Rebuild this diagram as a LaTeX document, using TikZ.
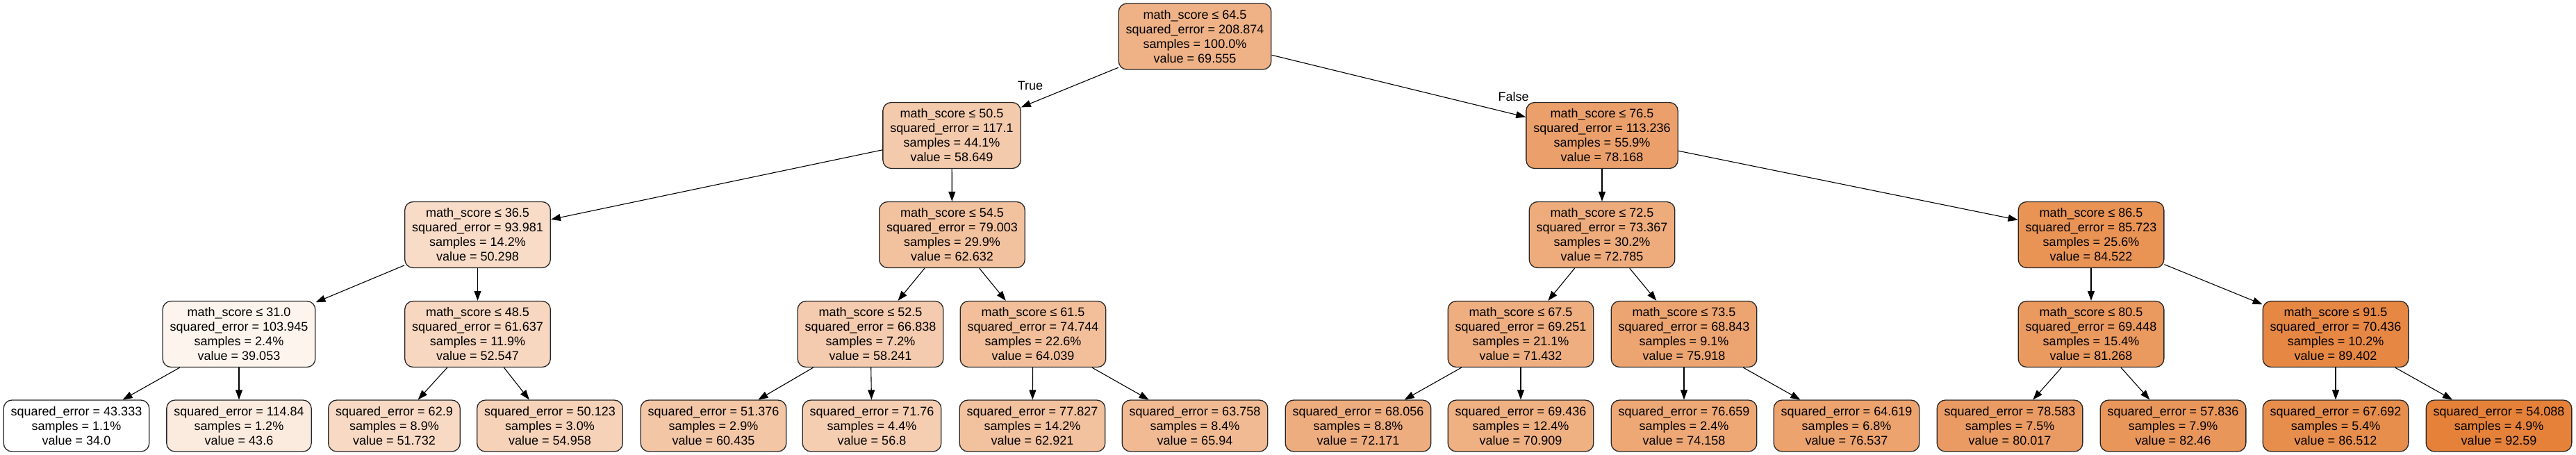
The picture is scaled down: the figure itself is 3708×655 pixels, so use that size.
\documentclass[tikz,border=0pt]{standalone}
\usepackage{fontspec}
\setmainfont{Liberation Sans}
\usetikzlibrary{arrows.meta}
\definecolor{treeorange}{HTML}{E58139}

\tikzset{
  box/.style={draw=black!85, line width=1.3pt, rounded corners=12pt, align=center,
    inner xsep=10.5pt, inner ysep=0pt, font=\fontsize{18}{21}\selectfont},
  split/.style={box, minimum height=95pt},
  leaf/.style={box, minimum height=74pt},
  edge/.style={-{Triangle[length=14pt, width=10pt]}, line width=1.1pt},
  lbl/.style={font=\fontsize{18}{21}\selectfont, inner sep=0pt}
}

\begin{document}
\begin{tikzpicture}[x=1pt, y=-1pt]
  \useasboundingbox (0,0) rectangle (3708,655);

  % depth 0
  \node[split, fill=treeorange!61] (n0) at (1720,52.5)
    {math\_score ≤ 64.5\\squared\_error = 208.874\\samples = 100.0\%\\value = 69.555};

  % depth 1
  \node[split, fill=treeorange!42] (n1) at (1370,195)
    {math\_score ≤ 50.5\\squared\_error = 117.1\\samples = 44.1\%\\value = 58.649};
  \node[split, fill=treeorange!75] (n2) at (2306,195)
    {math\_score ≤ 76.5\\squared\_error = 113.236\\samples = 55.9\%\\value = 78.168};

  % depth 2
  \node[split, fill=treeorange!28] (n11) at (687.5,338)
    {math\_score ≤ 36.5\\squared\_error = 93.981\\samples = 14.2\%\\value = 50.298};
  \node[split, fill=treeorange!49] (n12) at (1370.5,338)
    {math\_score ≤ 54.5\\squared\_error = 79.003\\samples = 29.9\%\\value = 62.632};
  \node[split, fill=treeorange!66] (n21) at (2306,338)
    {math\_score ≤ 72.5\\squared\_error = 73.367\\samples = 30.2\%\\value = 72.785};
  \node[split, fill=treeorange!86] (n22) at (3010,338)
    {math\_score ≤ 86.5\\squared\_error = 85.723\\samples = 25.6\%\\value = 84.522};

  % depth 3
  \node[split, fill=treeorange!9] (n111) at (344,481)
    {math\_score ≤ 31.0\\squared\_error = 103.945\\samples = 2.4\%\\value = 39.053};
  \node[split, fill=treeorange!32] (n112) at (687.5,481)
    {math\_score ≤ 48.5\\squared\_error = 61.637\\samples = 11.9\%\\value = 52.547};
  \node[split, fill=treeorange!41] (n121) at (1253,481)
    {math\_score ≤ 52.5\\squared\_error = 66.838\\samples = 7.2\%\\value = 58.241};
  \node[split, fill=treeorange!51] (n122) at (1487,481)
    {math\_score ≤ 61.5\\squared\_error = 74.744\\samples = 22.6\%\\value = 64.039};
  \node[split, fill=treeorange!64] (n211) at (2189,481)
    {math\_score ≤ 67.5\\squared\_error = 69.251\\samples = 21.1\%\\value = 71.432};
  \node[split, fill=treeorange!72] (n212) at (2424,481)
    {math\_score ≤ 73.5\\squared\_error = 68.843\\samples = 9.1\%\\value = 75.918};
  \node[split, fill=treeorange!81] (n221) at (3010,481)
    {math\_score ≤ 80.5\\squared\_error = 69.448\\samples = 15.4\%\\value = 81.268};
  \node[split, fill=treeorange!95] (n222) at (3362,481)
    {math\_score ≤ 91.5\\squared\_error = 70.436\\samples = 10.2\%\\value = 89.402};

  % leaves
  \node[leaf, fill=white] (l1) at (110,613)
    {squared\_error = 43.333\\samples = 1.1\%\\value = 34.0};
  \node[leaf, fill=treeorange!16] (l2) at (344,613)
    {squared\_error = 114.84\\samples = 1.2\%\\value = 43.6};
  \node[leaf, fill=treeorange!30] (l3) at (567.5,613)
    {squared\_error = 62.9\\samples = 8.9\%\\value = 51.732};
  \node[leaf, fill=treeorange!36] (l4) at (791.5,613)
    {squared\_error = 50.123\\samples = 3.0\%\\value = 54.958};
  \node[leaf, fill=treeorange!45] (l5) at (1027,613)
    {squared\_error = 51.376\\samples = 2.9\%\\value = 60.435};
  \node[leaf, fill=treeorange!39] (l6) at (1255,613)
    {squared\_error = 71.76\\samples = 4.4\%\\value = 56.8};
  \node[leaf, fill=treeorange!49] (l7) at (1486,613)
    {squared\_error = 77.827\\samples = 14.2\%\\value = 62.921};
  \node[leaf, fill=treeorange!55] (l8) at (1720,613)
    {squared\_error = 63.758\\samples = 8.4\%\\value = 65.94};
  \node[leaf, fill=treeorange!65] (l9) at (1955,613)
    {squared\_error = 68.056\\samples = 8.8\%\\value = 72.171};
  \node[leaf, fill=treeorange!63] (l10) at (2189,613)
    {squared\_error = 69.436\\samples = 12.4\%\\value = 70.909};
  \node[leaf, fill=treeorange!69] (l11) at (2424,613)
    {squared\_error = 76.659\\samples = 2.4\%\\value = 74.158};
  \node[leaf, fill=treeorange!73] (l12) at (2658,613)
    {squared\_error = 64.619\\samples = 6.8\%\\value = 76.537};
  \node[leaf, fill=treeorange!79] (l13) at (2893,613)
    {squared\_error = 78.583\\samples = 7.5\%\\value = 80.017};
  \node[leaf, fill=treeorange!83] (l14) at (3128,613)
    {squared\_error = 57.836\\samples = 7.9\%\\value = 82.46};
  \node[leaf, fill=treeorange!90] (l15) at (3362,613)
    {squared\_error = 67.692\\samples = 5.4\%\\value = 86.512};
  \node[leaf, fill=treeorange] (l16) at (3597,613)
    {squared\_error = 54.088\\samples = 4.9\%\\value = 92.59};

  % edges
  \foreach \a/\b in {n0/n1, n0/n2, n1/n11, n1/n12, n2/n21, n2/n22,
      n11/n111, n11/n112, n12/n121, n12/n122, n21/n211, n21/n212, n22/n221, n22/n222,
      n111/l1, n111/l2, n112/l3, n112/l4, n121/l5, n121/l6, n122/l7, n122/l8,
      n211/l9, n211/l10, n212/l11, n212/l12, n221/l13, n221/l14, n222/l15, n222/l16}
    \draw[edge] (\a) -- (\b);

  \node[lbl] (truelbl) at (1483,123.5) {True};
  \node[lbl] (falselbl) at (2178.5,139) {False};
\end{tikzpicture}
\end{document}
